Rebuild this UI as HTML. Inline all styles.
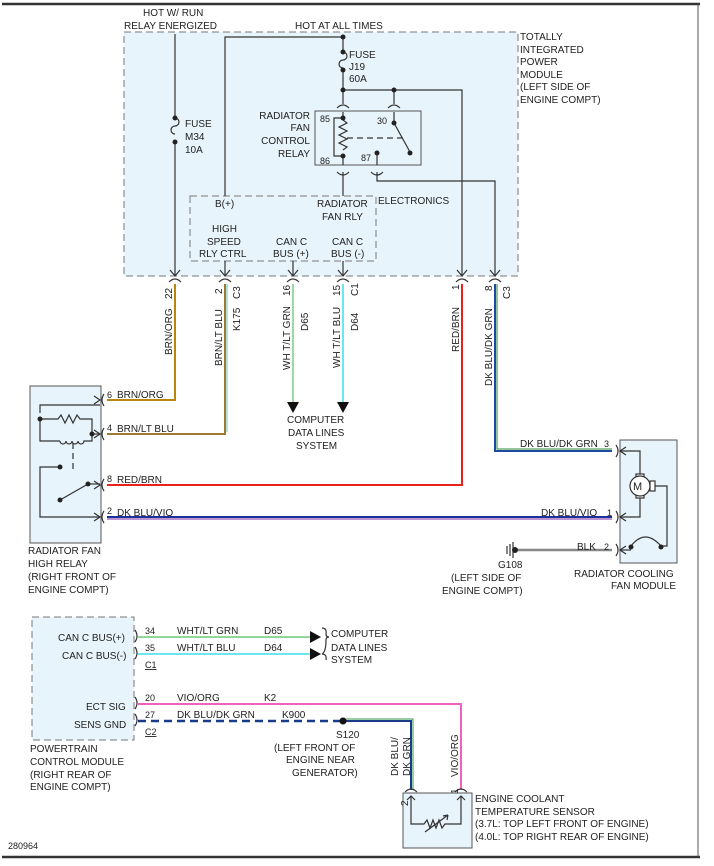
<!DOCTYPE html>
<html><head><meta charset="utf-8"><style>
body{margin:0;background:#fff}
svg{display:block}
text{font-family:"Liberation Sans",Arial,sans-serif;font-size:10px;fill:#222}
</style></head><body>
<svg width="714" height="866" viewBox="0 0 714 866" xmlns="http://www.w3.org/2000/svg">
<rect x="0" y="0" width="714" height="866" fill="#fff"/>
<line x1="2" y1="4" x2="700" y2="4" stroke="#333" stroke-width="2.5"/>
<line x1="2" y1="857" x2="700" y2="857" stroke="#333" stroke-width="2.5"/>
<line x1="698" y1="4" x2="698" y2="857" stroke="#555" stroke-width="1"/>

<!-- TIPM box -->
<rect x="124" y="32" width="394" height="244" fill="#e8f4fb" stroke="#777" stroke-dasharray="7,4"/>
<rect x="190" y="196" width="186" height="65" fill="#e8f4fb" stroke="#777" stroke-dasharray="7,4"/>
<rect x="315" y="111" width="106" height="54" fill="#e8f4fb" stroke="#555"/>

<g stroke="#333" stroke-width="1.2" fill="none">
<line x1="175" y1="34" x2="175" y2="118"/>
<path d="M175 118 a4 4 0 0 1 0 8 a4 4 0 0 0 0 8"/>
<line x1="175" y1="142" x2="175" y2="276"/>
<polyline points="225,196 225,37 343,37 343,52"/>
<path d="M343 52 a4 4 0 0 1 0 8 a4 4 0 0 0 0 8"/>
<line x1="343" y1="70" x2="343" y2="104"/>
<polyline points="343,90 462,90 462,276"/>
<line x1="394" y1="90" x2="394" y2="104"/>
<path d="M337 108 q6 -6 12 0 M388 108 q6 -6 12 0"/>
<line x1="343" y1="112" x2="343" y2="118"/>
<line x1="394" y1="112" x2="394" y2="123"/>
<polyline points="343,118 334,118 334,156 343,156"/>
<path d="M343 120 l4 3 -8 4 8 4 -8 4 8 4 -8 4 8 4 -4 3" />
<line x1="343" y1="156" x2="343" y2="165"/>
<line x1="394" y1="123" x2="410" y2="152"/>
<line x1="347" y1="138" x2="405" y2="138" stroke-dasharray="6,4"/>
<line x1="377" y1="153" x2="377" y2="165"/>
<path d="M337 172 q6 6 12 0 M371 172 q6 6 12 0"/>
<line x1="343" y1="172" x2="343" y2="196"/>
<polyline points="377,172 377,181 495,181 495,276"/>
<line x1="225" y1="261" x2="225" y2="276"/>
<line x1="293" y1="261" x2="293" y2="276"/>
<line x1="343" y1="261" x2="343" y2="276"/>
<path d="M170 270 l5 6 5 -6 M220 270 l5 6 5 -6 M288 270 l5 6 5 -6 M338 270 l5 6 5 -6 M457 270 l5 6 5 -6 M490 270 l5 6 5 -6"/>
<path d="M169 282 q6 -6 12 0 M219 282 q6 -6 12 0 M287 282 q6 -6 12 0 M337 282 q6 -6 12 0 M456 282 q6 -6 12 0 M489 282 q6 -6 12 0"/>
</g>
<g fill="#222">
<circle cx="343" cy="37" r="2.5"/><circle cx="343" cy="52" r="2.5"/><circle cx="343" cy="70" r="2.5"/><circle cx="343" cy="90" r="2.5"/><circle cx="394" cy="90" r="2.5"/>
<circle cx="175" cy="118" r="2.5"/><circle cx="175" cy="142" r="2.5"/>
<circle cx="343" cy="118" r="2.5"/><circle cx="343" cy="156" r="2.5"/><circle cx="394" cy="123" r="2.5"/><circle cx="410" cy="153" r="2.5"/><circle cx="377" cy="153" r="2.5"/>
</g>

<!-- colored wires -->
<g fill="none" stroke-width="2">
<polyline points="175,284 175,400 107,400" stroke="#b8860b"/>
<polyline points="225,284 225,434 107,434" stroke="#a07830"/>
<line x1="227" y1="284" x2="227" y2="432" stroke="#7fd0c8" stroke-width="1.2"/>
<line x1="293" y1="284" x2="293" y2="402" stroke="#9fd8a8"/>
<line x1="343" y1="284" x2="343" y2="402" stroke="#6ee6ee"/>
<polyline points="462,284 462,485 107,485" stroke="#e8221a"/>
<polyline points="495,284 495,451 612,451" stroke="#1b4aa0"/>
<polyline points="497,284 497,449 612,449" stroke="#2a8a3a" stroke-width="1"/>
<line x1="107" y1="517" x2="612" y2="517" stroke="#20309a"/>
<line x1="107" y1="519" x2="612" y2="519" stroke="#7a2aa0" stroke-width="1"/>
<line x1="516" y1="550" x2="612" y2="550" stroke="#888" stroke-width="2.5"/>
<line x1="138" y1="637" x2="310" y2="637" stroke="#8fd89a"/>
<line x1="138" y1="654" x2="310" y2="654" stroke="#6ee6ee"/>
<polyline points="138,704 461,704 461,790" stroke="#f060c0"/>
<line x1="138" y1="721" x2="343" y2="721" stroke="#1a3a8a" stroke-width="2.5" stroke-dasharray="8,5"/>
<polyline points="343,721 411,721 411,790" stroke="#1a3a8a"/>
<polyline points="343,719 413,719 413,790" stroke="#3a9a4a" stroke-width="1"/>
</g>
<g fill="#111">
<polygon points="287,402 299,402 293,413"/><polygon points="337,402 349,402 343,413"/>
<polygon points="310,631 310,643 321,637"/><polygon points="310,648 310,660 321,654"/>
<circle cx="343" cy="721" r="3.5"/>
</g>

<!-- radiator fan high relay -->
<rect x="30" y="386" width="71" height="157" fill="#e8f4fb" stroke="#555"/>
<g stroke="#333" stroke-width="1.2" fill="none">
<polyline points="40,413 40,405 100,405"/>
<path d="M40 419 L58 419 l3 -4 4 8 4 -8 4 8 4 -8 3 4 L92 419 L92 434"/>
<polyline points="40,419 40,441 60,441"/>
<path d="M60 441 a3 3 0 0 0 6 0 a3 3 0 0 0 6 0 a3 3 0 0 0 6 0 a3 3 0 0 0 6 0 l8 0 0 -6"/>
<line x1="92" y1="434" x2="100" y2="434"/>
<line x1="73" y1="443" x2="73" y2="470" stroke-dasharray="6,4"/>
<polyline points="60,467 40,467 40,517 100,517"/>
<line x1="60" y1="500" x2="88" y2="484"/>
<line x1="88" y1="484" x2="100" y2="484"/>
<path d="M94 396 l6 4 -6 4 M94 430 l6 4 -6 4 M94 481 l6 4 -6 4 M94 513 l6 4 -6 4"/>
<path d="M104 394 q-4 6 0 12 M104 428 q-4 6 0 12 M104 479 q-4 6 0 12 M104 511 q-4 6 0 12"/>
</g>
<g fill="#222"><circle cx="40" cy="419" r="2.5"/><circle cx="92" cy="434" r="2.5"/><circle cx="60" cy="467" r="2.5"/><circle cx="60" cy="500" r="2.5"/><circle cx="88" cy="484" r="2.5"/></g>

<!-- fan module -->
<rect x="620" y="440" width="57" height="123" fill="#e8f4fb" stroke="#555"/>
<g stroke="#333" stroke-width="1.2" fill="none">
<path d="M616 445 q4 6 0 12 M616 511 q4 6 0 12 M616 544 q4 6 0 12"/>
<path d="M626 447 l-6 4 6 4 M626 513 l-6 4 6 4 M626 546 l-6 4 6 4"/>
<polyline points="620,451 640,451 640,474"/>
<polyline points="620,517 640,517 640,498"/>
<rect x="636" y="474" width="8" height="24" fill="#fff"/>
<circle cx="640" cy="486" r="10" fill="#fff"/>
<rect x="650" y="481" width="5" height="10" fill="#fff"/>
<polyline points="655,486 667,486 667,546 661,546"/>
<path d="M631 546 q14 -18 30 0"/>
<line x1="620" y1="550" x2="631" y2="550"/>
</g>
<text x="633" y="490" style="font-size:11px">M</text>
<g fill="#222"><circle cx="631" cy="547" r="2.5"/><circle cx="661" cy="547" r="2.5"/></g>
<g stroke="#333" stroke-width="1.2"><line x1="507" y1="546" x2="507" y2="554"/><line x1="510" y1="544" x2="510" y2="556"/><line x1="513" y1="542" x2="513" y2="558"/></g>
<circle cx="515" cy="550" r="3" fill="#222"/>

<!-- PCM -->
<rect x="32" y="617" width="102" height="123" fill="#e8f4fb" stroke="#777" stroke-dasharray="7,4"/>
<g stroke="#333" stroke-width="1.2" fill="none">
<path d="M135 630 q4 6 0 12 M135 647 q4 6 0 12 M135 697 q4 6 0 12 M135 714 q4 6 0 12"/>
<path d="M322 628 q5 0 4 6 q0 3 3 3 q-3 0 -3 3 q0 12 -4 14 q5 0 4 6" />
</g>

<!-- ECT sensor -->
<rect x="403" y="793" width="69" height="55" fill="#e8f4fb" stroke="#555"/>
<g stroke="#333" stroke-width="1.2" fill="none">
<path d="M405 792 q6 -6 12 0 M455 792 q6 -6 12 0"/>
<path d="M407 800 l4 -4 4 4 M457 800 l4 -4 4 4"/>
<path d="M411 796 L411 824 L424 824 l3 -4 3 8 3 -8 3 8 3 -8 3 8 3 -4 L461 824 L461 796"/>
<path d="M425 832 L448 815 M448 815 l-5 1 M448 815 l-1 5"/>
</g>

<!-- texts -->
<text x="143" y="16">HOT W/ RUN</text>
<text x="124" y="29">RELAY ENERGIZED</text>
<text x="295" y="29">HOT AT ALL TIMES</text>
<text x="520" y="40">TOTALLY</text>
<text x="520" y="53">INTEGRATED</text>
<text x="520" y="65">POWER</text>
<text x="520" y="78">MODULE</text>
<text x="520" y="90">(LEFT SIDE OF</text>
<text x="520" y="103">ENGINE COMPT)</text>
<text x="349" y="58">FUSE</text><text x="349" y="70">J19</text><text x="349" y="82">60A</text>
<text x="185" y="127">FUSE</text><text x="185" y="140">M34</text><text x="185" y="153">10A</text>
<text x="310" y="119" text-anchor="end">RADIATOR</text>
<text x="310" y="131" text-anchor="end">FAN</text>
<text x="310" y="144" text-anchor="end">CONTROL</text>
<text x="310" y="157" text-anchor="end">RELAY</text>
<text x="320" y="122" style="font-size:9px">85</text><text x="377" y="124" style="font-size:9px">30</text>
<text x="320" y="164" style="font-size:9px">86</text><text x="361" y="161" style="font-size:9px">87</text>
<text x="378" y="204">ELECTRONICS</text>
<text x="215" y="207">B(+)</text>
<text x="317" y="207">RADIATOR</text><text x="322" y="220">FAN RLY</text>
<text x="212" y="232">HIGH</text><text x="207" y="245">SPEED</text><text x="199" y="257">RLY CTRL</text>
<text x="276" y="245">CAN C</text><text x="273" y="257">BUS (+)</text>
<text x="332" y="245">CAN C</text><text x="331" y="257">BUS (-)</text>

<g style="font-size:9.5px">
<text transform="translate(172,299) rotate(-90)">22</text>
<text transform="translate(222,294) rotate(-90)">2</text>
<text transform="translate(240,299) rotate(-90)">C3</text>
<text transform="translate(290,296) rotate(-90)">16</text>
<text transform="translate(340,296) rotate(-90)">15</text>
<text transform="translate(358,296) rotate(-90)">C1</text>
<text transform="translate(459,290) rotate(-90)">1</text>
<text transform="translate(492,291) rotate(-90)">8</text>
<text transform="translate(510,299) rotate(-90)">C3</text>
<text transform="translate(172,355) rotate(-90)">BRN/ORG</text>
<text transform="translate(222,366) rotate(-90)">BRN/LT BLU</text>
<text transform="translate(240,331) rotate(-90)">K175</text>
<text transform="translate(290,370) rotate(-90)">WH T/LT GRN</text>
<text transform="translate(308,331) rotate(-90)">D65</text>
<text transform="translate(340,368) rotate(-90)">WH T/LT BLU</text>
<text transform="translate(358,331) rotate(-90)">D64</text>
<text transform="translate(459,352) rotate(-90)">RED/BRN</text>
<text transform="translate(492,386) rotate(-90)">DK BLU/DK GRN</text>
<text transform="translate(408,806) rotate(-90)">2</text>
<text transform="translate(398,776) rotate(-90)">DK BLU/</text>
<text transform="translate(410,776) rotate(-90)">DK GRN</text>
<text transform="translate(458,794) rotate(-90)">1</text>
<text transform="translate(458,777) rotate(-90)">VIO/ORG</text>
</g>

<text x="107" y="398" style="font-size:9px">6</text><text x="117" y="398">BRN/ORG</text>
<text x="107" y="431" style="font-size:9px">4</text><text x="117" y="432">BRN/LT BLU</text>
<text x="107" y="482" style="font-size:9px">8</text><text x="117" y="483">RED/BRN</text>
<text x="107" y="514" style="font-size:9px">2</text><text x="117" y="516">DK BLU/VIO</text>
<text x="287" y="423">COMPUTER</text><text x="288" y="436">DATA LINES</text><text x="296" y="449">SYSTEM</text>
<text x="520" y="447">DK BLU/DK GRN</text><text x="604" y="447" style="font-size:9px">3</text>
<text x="541" y="516">DK BLU/VIO</text><text x="607" y="516" style="font-size:9px">1</text>
<text x="577" y="550">BLK</text><text x="604" y="550" style="font-size:9px">2</text>
<text x="498" y="568">G108</text><text x="451" y="581">(LEFT SIDE OF</text><text x="442" y="594">ENGINE COMPT)</text>
<text x="28" y="554">RADIATOR FAN</text><text x="28" y="567">HIGH RELAY</text>
<text x="28" y="580">(RIGHT FRONT OF</text><text x="28" y="593">ENGINE COMPT)</text>
<text x="574" y="577">RADIATOR COOLING</text><text x="611" y="589">FAN MODULE</text>

<text x="58" y="641">CAN C BUS(+)</text><text x="62" y="659">CAN C BUS(-)</text>
<text x="145" y="634" style="font-size:9px">34</text><text x="177" y="634">WHT/LT GRN</text><text x="264" y="634">D65</text>
<text x="145" y="651" style="font-size:9px">35</text><text x="177" y="651">WHT/LT BLU</text><text x="264" y="651">D64</text>
<text x="145" y="668" style="font-size:9px;text-decoration:underline">C1</text>
<text x="331" y="637">COMPUTER</text><text x="331" y="651">DATA LINES</text><text x="331" y="663">SYSTEM</text>
<text x="86" y="710">ECT SIG</text><text x="74" y="728">SENS GND</text>
<text x="145" y="701" style="font-size:9px">20</text><text x="177" y="701">VIO/ORG</text><text x="264" y="701">K2</text>
<text x="145" y="718" style="font-size:9px">27</text><text x="177" y="718">DK BLU/DK GRN</text><text x="282" y="718">K900</text>
<text x="145" y="735" style="font-size:9px;text-decoration:underline">C2</text>
<text x="336" y="738">S120</text>
<text x="274" y="751">(LEFT FRONT OF</text><text x="286" y="763">ENGINE NEAR</text><text x="292" y="776">GENERATOR)</text>
<text x="30" y="752">POWERTRAIN</text><text x="30" y="765">CONTROL MODULE</text>
<text x="30" y="778">(RIGHT REAR OF</text><text x="30" y="790">ENGINE COMPT)</text>
<text x="475" y="802">ENGINE COOLANT</text><text x="475" y="815">TEMPERATURE SENSOR</text>
<text x="475" y="827">(3.7L: TOP LEFT FRONT OF ENGINE)</text>
<text x="475" y="840">(4.0L: TOP RIGHT REAR OF ENGINE)</text>
<text x="8" y="849" style="font-size:9px">280964</text>
</svg>
</body></html>
